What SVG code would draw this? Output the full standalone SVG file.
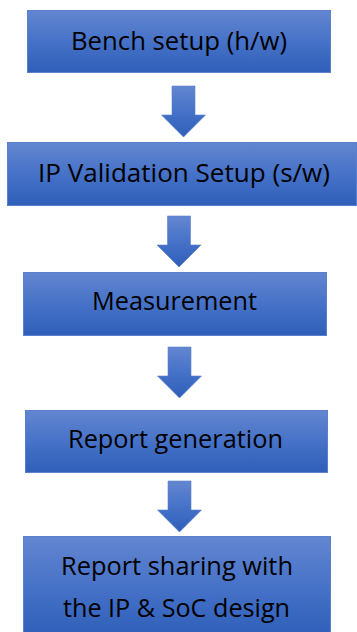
<svg xmlns="http://www.w3.org/2000/svg" width="357" height="632" viewBox="0 0 357 632">
  <defs>
    <linearGradient id="boxFill" x1="0" y1="0" x2="0" y2="1">
      <stop offset="0" stop-color="#6386d0"/>
      <stop offset="0.5" stop-color="#4672c8"/>
      <stop offset="1" stop-color="#2f5fb9"/>
    </linearGradient>
    <linearGradient id="arrowFill" x1="0" y1="0" x2="0" y2="1">
      <stop offset="0" stop-color="#6386d0"/>
      <stop offset="0.5" stop-color="#4672c8"/>
      <stop offset="1" stop-color="#2f5fb9"/>
    </linearGradient>
    <path id="downArrow" d="M-11.5,0 H11.5 V29 H22 L0,51 L-22,29 H-11.5 Z"/>
  </defs>
  <style>
    .box { fill: url(#boxFill); stroke: #5a80cc; stroke-width: 1; }
    .arrow { fill: url(#arrowFill); stroke: #5a80cc; stroke-width: 0.6; }
    .label { font-family: "Open Sans", "Liberation Sans", sans-serif; font-size: 25px; fill: #000; text-anchor: middle; }
  </style>
  <rect width="357" height="632" fill="#ffffff"/>

  <!-- flow arrows between the steps -->
  <g id="connectors">
    <use href="#downArrow" class="arrow" x="183.5" y="86"/>
    <use href="#downArrow" class="arrow" x="179" y="216" transform=""/>
    <use href="#downArrow" class="arrow" x="179.5" y="347"/>
    <use href="#downArrow" class="arrow" x="179.5" y="481"/>
  </g>

  <g id="bench-setup">
    <rect class="box" x="27.5" y="10.5" width="303" height="62"/>
    <text class="label" x="179" y="50" textLength="216" lengthAdjust="spacingAndGlyphs">Bench setup (h/w)</text>
  </g>

  <g id="ip-validation-setup">
    <rect class="box" x="7.5" y="142.5" width="349" height="63"/>
    <text class="label" x="184" y="182" textLength="292" lengthAdjust="spacingAndGlyphs">IP Validation Setup (s/w)</text>
  </g>

  <g id="measurement">
    <rect class="box" x="23.5" y="272.5" width="303" height="63"/>
    <text class="label" x="174.5" y="310" textLength="165" lengthAdjust="spacingAndGlyphs">Measurement</text>
  </g>

  <g id="report-generation">
    <rect class="box" x="25.5" y="410.5" width="302" height="62"/>
    <text class="label" x="175.5" y="448" textLength="215" lengthAdjust="spacingAndGlyphs">Report generation</text>
  </g>

  <g id="report-sharing">
    <rect class="box" x="23.5" y="536.5" width="307" height="100"/>
    <text class="label" x="177" y="575" textLength="232" lengthAdjust="spacingAndGlyphs">Report sharing with</text>
    <text class="label" x="176.5" y="617" textLength="227" lengthAdjust="spacingAndGlyphs">the IP &amp; SoC design</text>
  </g>
</svg>
